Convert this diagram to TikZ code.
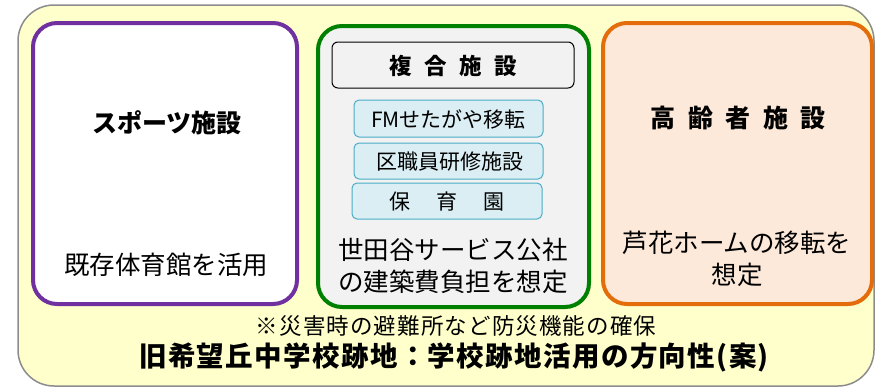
\documentclass[tikz,border=0pt]{standalone}
\usepackage{fontspec}
\setmainfont{Noto Sans CJK JP}
\definecolor{bgyellow}{HTML}{FFFFCC}
\definecolor{outline}{HTML}{8C8C8C}
\definecolor{purp}{HTML}{7030A0}
\definecolor{grn}{HTML}{008000}
\definecolor{grayfill}{HTML}{F2F2F2}
\definecolor{orng}{HTML}{E46C0A}
\definecolor{peach}{HTML}{FDE9D9}
\definecolor{lblue}{HTML}{DAEEF3}
\definecolor{teal}{HTML}{4BACC6}
\tikzset{
  bigbox/.style={line width=4pt, rounded corners=24pt},
  subbox/.style={draw=teal, line width=1pt, fill=lblue, rounded corners=5pt},
  main/.style={font=\fontsize{25.5}{32}\selectfont, align=center, inner sep=0pt},
  boldtxt/.style={font=\bfseries\fontsize{25}{30}\selectfont, inner sep=0pt},
  subtxt/.style={font=\fontsize{21}{24}\selectfont, inner sep=0pt},
}
\begin{document}
\begin{tikzpicture}[x=1pt,y=-1pt]
\useasboundingbox (0,0) rectangle (877,389);
% outer
\draw[draw=outline, line width=1.5pt, fill=bgyellow, rounded corners=36pt] (18,5) rectangle (874,386);
% purple box
\draw[bigbox, draw=purp, fill=white] (33,23) rectangle (297,304);
\node[boldtxt] (sp) at (167,123) {スポーツ施設};
\node[main] (spt) at (166,265) {既存体育館を活用};
% green box
\draw[bigbox, draw=grn, fill=grayfill] (318,26) rectangle (589,307);
\draw[draw=black, line width=1pt, fill=grayfill, rounded corners=6pt] (332,42) rectangle (574,88);
\node[font=\bfseries\fontsize{22.5}{26}\selectfont, inner sep=0pt] (fk) at (453,66) {複\hspace{0.55em}合\hspace{0.55em}施\hspace{0.55em}設};
\draw[subbox] (354,100) rectangle (543,137);
\node[subtxt] (fm) at (448.5,119) {FMせたがや移転};
\draw[subbox] (354,143) rectangle (543,179);
\node[subtxt] (ku) at (449.5,162) {区職員研修施設};
\draw[subbox] (352,183) rectangle (542,219);
\node[subtxt] (ho) at (447,202) {保\hspace{1.25em}育\hspace{1.25em}園};
\node[main] (se) at (453,266) {世田谷サービス公社\\の建築費負担を想定};
% orange box
\draw[bigbox, draw=orng, fill=peach] (603,23) rectangle (872,304);
\node[boldtxt] (ko) at (738,118) {高\hspace{0.5em}齢\hspace{0.5em}者\hspace{0.5em}施\hspace{0.5em}設};
\node[main] (ro) at (737,259) {芦花ホームの移転を\\想定};
% bottom texts
\node[font=\fontsize{22.5}{26}\selectfont\addfontfeature{LetterSpace=5}, inner sep=0pt] (note) at (456,326) {※災害時の避難所など防災機能の確保};
\node[font=\bfseries\fontsize{27.5}{32}\selectfont\addfontfeature{LetterSpace=5}, inner sep=0pt] (title) at (454,357) {旧希望丘中学校跡地：学校跡地活用の方向性\hspace{0.05em}(案)};
\end{tikzpicture}
\end{document}
